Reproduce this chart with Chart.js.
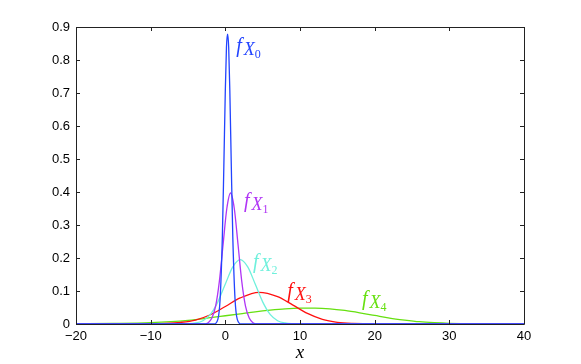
<!DOCTYPE html>
<html>
<head>
<meta charset="utf-8">
<script src="https://cdn.jsdelivr.net/npm/chart.js@4/dist/chart.umd.min.js"></script>
<style>
  html, body { margin: 0; padding: 0; background: #fff; }
  #wrap { width: 581px; height: 364px; }
</style>
</head>
<body>
<div id="wrap"><canvas id="chart" width="581" height="364"></canvas></div>
<script>
// values
const x0 = [-20, -1.5, -1.0, -0.7, -0.4, -0.2, 0, 0.15, 0.3, 0.45, 0.6, 0.8, 1.0, 1.3, 1.6, 2.1, 40];
const f0 = [0, 0, 0.014, 0.075, 0.264, 0.478, 0.71, 0.838, 0.878, 0.838, 0.71, 0.478, 0.264, 0.075, 0.014, 0, 0];

const x1 = [-20, -3, -2.3, -1.8, -1.3, -0.8, -0.3, 0.2, 0.7, 1.2, 1.7, 2.2, 2.7, 3.2, 3.7, 4.4, 40];
const f1 = [0, 0, 0.004, 0.018, 0.054, 0.129, 0.241, 0.35, 0.397, 0.35, 0.241, 0.129, 0.054, 0.018, 0.004, 0, 0];

const x2 = [-20, -6, -4, -3, -2, -1, 0, 1, 2, 3, 4, 5, 6, 7, 8, 10, 40];
const f2 = [0, 0, 0.003, 0.01, 0.029, 0.067, 0.121, 0.173, 0.195, 0.173, 0.121, 0.067, 0.029, 0.01, 0.003, 0, 0];

const x3 = [-20, -12, -8, -6, -4, -2, 0, 2, 4.5, 7, 9, 11, 13, 15, 17, 20, 40];
const f3 = [0, 0.0005, 0.002, 0.005, 0.012, 0.028, 0.053, 0.079, 0.096, 0.083, 0.058, 0.032, 0.014, 0.005, 0.0015, 0, 0];

const x4 = [-20, -15, -10, -5, -2, 0, 2, 4, 6, 8, 10, 12, 14, 16, 18, 20, 22, 24, 26, 28, 30, 33, 40];
const f4 = [0.0005, 0.0015, 0.004, 0.011, 0.019, 0.025, 0.031, 0.037, 0.042, 0.046, 0.048, 0.048, 0.046, 0.041, 0.034, 0.026, 0.018, 0.012, 0.007, 0.004, 0.002, 0.0005, 0];

const xTicks = [-20, -10, 0, 10, 20, 30, 40];
const yTicks = [0, 0.1, 0.2, 0.3, 0.4, 0.5, 0.6, 0.7, 0.8, 0.9];

const seriesNames = ['0', '1', '2', '3', '4'];
const seriesColors = ['#2244ff', '#b035f5', '#6ff0dc', '#ff1010', '#66e010'];
// where each f_X label sits (data coords, left/baseline)
const labelX = [1.45, 2.5, 3.7, 8.3, 18.3];
const labelY = [0.824, 0.355, 0.17, 0.082, 0.057];

function pts(xs, ys) {
  return xs.map((x, i) => ({ x: x, y: ys[i] }));
}

const curves = [[x0, f0], [x1, f1], [x2, f2], [x3, f3], [x4, f4]];

const boxTicks = {
  id: 'boxTicks',
  afterDraw(chart) {
    const ctx = chart.ctx;
    const a = chart.chartArea;
    const xs = chart.scales.x;
    const ys = chart.scales.y;
    ctx.save();
    ctx.strokeStyle = '#222';
    ctx.lineWidth = 1;
    ctx.beginPath();
    ctx.rect(Math.round(a.left) + 0.5, Math.round(a.top) + 0.5, Math.round(a.right - a.left), Math.round(a.bottom - a.top));
    xTicks.forEach(v => {
      const px = Math.round(xs.getPixelForValue(v)) + 0.5;
      ctx.moveTo(px, a.bottom); ctx.lineTo(px, a.bottom - 4);
      ctx.moveTo(px, a.top); ctx.lineTo(px, a.top + 4);
    });
    yTicks.forEach(v => {
      const py = Math.round(ys.getPixelForValue(v)) + 0.5;
      ctx.moveTo(a.left, py); ctx.lineTo(a.left + 4, py);
      ctx.moveTo(a.right, py); ctx.lineTo(a.right - 4, py);
    });
    ctx.stroke();

    // f_X labels
    seriesNames.forEach((n, i) => {
      let px = xs.getPixelForValue(labelX[i]);
      const py = ys.getPixelForValue(labelY[i]);
      ctx.fillStyle = seriesColors[i];
      ctx.textBaseline = 'alphabetic';
      ctx.textAlign = 'left';
      ctx.font = 'italic 20px "Liberation Serif"';
      ctx.fillText('f', px, py);
      px += ctx.measureText('f').width + 2;
      ctx.font = 'italic 18px "Liberation Serif"';
      ctx.fillText('X', px, py + 3);
      px += ctx.measureText('X').width;
      ctx.font = '12px "Liberation Serif"';
      ctx.fillText(n, px, py + 6);
    });
    ctx.restore();
  }
};

new Chart(document.getElementById('chart'), {
  type: 'line',
  data: {
    datasets: curves.map((c, i) => ({
      label: 'f_X' + seriesNames[i],
      data: pts(c[0], c[1]),
      borderColor: seriesColors[i],
      borderWidth: 1.3,
      pointRadius: 0,
      fill: false,
      cubicInterpolationMode: 'monotone'
    }))
  },
  options: {
    responsive: false,
    animation: false,
    layout: { padding: { left: 0, right: 57, top: 27, bottom: 0 } },
    plugins: { legend: { display: false }, tooltip: { enabled: false } },
    scales: {
      x: {
        type: 'linear',
        min: -20, max: 40,
        afterFit(s) { s.height = 40; },
        afterBuildTicks(s) { s.ticks = xTicks.map(v => ({ value: v })); },
        grid: { display: false, drawTicks: false },
        border: { display: false },
        ticks: {
          color: '#000',
          padding: 5,
          maxRotation: 0,
          font: { family: 'Liberation Sans', size: 13 },
          callback: v => String(v).replace('-', '\u2212')
        },
        title: {
          display: true,
          text: 'x',
          color: '#000',
          padding: { top: -3, bottom: 0 },
          font: { family: 'Liberation Serif', style: 'italic', size: 19 }
        }
      },
      y: {
        min: 0, max: 0.9,
        afterFit(s) { s.width = 76; },
        afterBuildTicks(s) { s.ticks = yTicks.map(v => ({ value: v })); },
        grid: { display: false, drawTicks: false },
        border: { display: false },
        ticks: {
          color: '#000',
          padding: 6,
          font: { family: 'Liberation Sans', size: 13 },
          callback: v => String(Math.round(v * 10) / 10)
        }
      }
    }
  },
  plugins: [boxTicks]
});
</script>
</body>
</html>
